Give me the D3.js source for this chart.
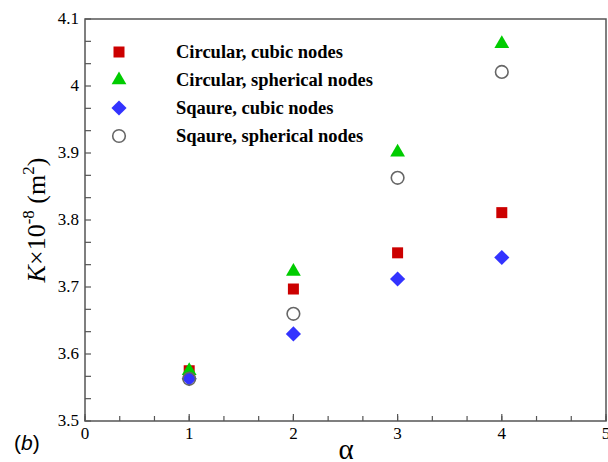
<!DOCTYPE html>
<html>
<head>
<meta charset="UTF-8">
<title>Permeability vs alpha</title>
<script src="https://d3js.org/d3.v7.min.js"></script>
<style>
  body { margin: 0; background: #fff; }
  svg text { fill: #000; }
</style>
</head>
<body>
<div id="chart"></div>
<script>
// data
const alphas = [1, 2, 3, 4];
const circCubic = [3.575, 3.697, 3.751, 3.811];
const circSpherical = [3.575, 3.723, 3.901, 4.063];
const sqCubic = [3.563, 3.630, 3.712, 3.744];
const sqSpherical = [3.563, 3.660, 3.863, 4.021];
const seriesNames = ["Circular, cubic nodes", "Circular, spherical nodes", "Sqaure, cubic nodes", "Sqaure, spherical nodes"];
const xTicks = [0, 1, 2, 3, 4, 5];
const yTicks = [3.5, 3.6, 3.7, 3.8, 3.9, 4, 4.1];

const W = 608, H = 462;
const margin = {top: 19, right: 2, bottom: 41, left: 85};
const width = W - margin.left - margin.right,
      height = H - margin.top - margin.bottom;

const serif = "'Liberation Serif', 'Times New Roman', serif";
const sans = "'Liberation Sans', Arial, sans-serif";

const svg = d3.select("#chart").append("svg")
    .attr("width", W).attr("height", H);

const g = svg.append("g")
    .attr("transform", "translate(" + margin.left + "," + margin.top + ")");

const x = d3.scaleLinear().domain([0, 5]).range([0, width]);
const y = d3.scaleLinear().domain([3.5, 4.1]).range([height, 0]);

// minor ticks (3 subdivisions)
const xMinor = d3.range(0, 5.0001, 1/3);
const yMinor = d3.range(3.5, 4.1001, 0.1/3);

const axisColor = "#555";

// frame
g.append("rect")
    .attr("x", 0).attr("y", 0)
    .attr("width", width).attr("height", height)
    .attr("fill", "none").attr("stroke", axisColor).attr("stroke-width", 1.5);

// bottom axis: ticks pointing inward
const xAxis = g.append("g").attr("transform", "translate(0," + height + ")");
xAxis.selectAll("line.minor").data(xMinor).join("line")
    .attr("x1", d => x(d)).attr("x2", d => x(d))
    .attr("y1", 0).attr("y2", -5)
    .attr("stroke", axisColor).attr("stroke-width", 1.2);
xAxis.selectAll("line.major").data(xTicks).join("line")
    .attr("x1", d => x(d)).attr("x2", d => x(d))
    .attr("y1", 0).attr("y2", -7)
    .attr("stroke", axisColor).attr("stroke-width", 1.2);
xAxis.selectAll("text").data(xTicks).join("text")
    .attr("x", d => x(d)).attr("y", 18)
    .attr("text-anchor", "middle")
    .style("font-family", serif)
    .style("font-size", "17px")
    .text(d => d);

// left axis
const yAxis = g.append("g");
yAxis.selectAll("line").data(yMinor).join("line")
    .attr("x1", 0).attr("x2", 6)
    .attr("y1", d => y(d)).attr("y2", d => y(d))
    .attr("stroke", axisColor).attr("stroke-width", 1.2);
yAxis.selectAll("text").data(yTicks).join("text")
    .attr("x", -6).attr("y", d => y(d))
    .attr("dy", "0.3em")
    .attr("text-anchor", "end")
    .style("font-family", serif)
    .style("font-size", "17px")
    .text(d => d);

// axis titles
svg.append("text")
    .attr("x", 346).attr("y", 459)
    .attr("text-anchor", "middle")
    .style("font-family", serif)
    .style("font-size", "29px")
    .text("\u03b1");

const yl = svg.append("text")
    .attr("transform", "translate(45,220) rotate(-90)")
    .attr("text-anchor", "middle")
    .style("font-family", serif)
    .style("font-size", "26px");
yl.append("tspan").style("font-style", "italic").text("K");
yl.append("tspan").text("\u00d710");
yl.append("tspan").attr("dy", -11).style("font-size", "17px").text("-8");
yl.append("tspan").attr("dy", 11).text(" (m");
yl.append("tspan").attr("dy", -11).style("font-size", "17px").text("2");
yl.append("tspan").attr("dy", 11).text(")");

const lb = svg.append("text")
    .attr("x", 14).attr("y", 450)
    .style("font-family", sans)
    .style("font-size", "21px");
lb.append("tspan").text("(");
lb.append("tspan").style("font-style", "italic").text("b");
lb.append("tspan").text(")");

// marker drawing
const diamond = {
  draw(ctx, size) {
    const r = Math.sqrt(size / 2);
    ctx.moveTo(0, -r); ctx.lineTo(r, 0); ctx.lineTo(0, r); ctx.lineTo(-r, 0); ctx.closePath();
  }
};
const styles = [
  {shape: d3.symbolSquare, size: 121, fill: "#cc0000", stroke: "none"},
  {shape: d3.symbolTriangle, size: 95, fill: "#00cc00", stroke: "none"},
  {shape: diamond, size: 115, fill: "#3333ff", stroke: "none"},
  {shape: d3.symbolCircle, size: 125, fill: "none", stroke: "#666"}
];
const allSeries = [circCubic, circSpherical, sqCubic, sqSpherical];

function marker(sel, s) {
  sel.attr("d", d3.symbol().type(s.shape).size(s.size)())
    .attr("fill", s.fill)
    .attr("stroke", s.stroke)
    .attr("stroke-width", s.stroke === "none" ? 0 : 1.6);
}

allSeries.forEach((vals, i) => {
  const s = styles[i];
  g.append("g").selectAll("path").data(vals).join("path")
    .attr("transform", (d, j) => "translate(" + x(alphas[j]) + "," + y(d) + ")")
    .call(marker, s);
});

// legend
const legend = svg.append("g");
seriesNames.forEach((name, i) => {
  const ly = 52 + i * 28;
  legend.append("path")
    .attr("transform", "translate(119," + ly + ")")
    .call(marker, styles[i]);
  legend.append("text")
    .attr("x", 176).attr("y", ly).attr("dy", "0.35em")
    .style("font-family", serif)
    .style("font-weight", "bold")
    .style("font-size", "18.5px")
    .text(name);
});
</script>
</body>
</html>
